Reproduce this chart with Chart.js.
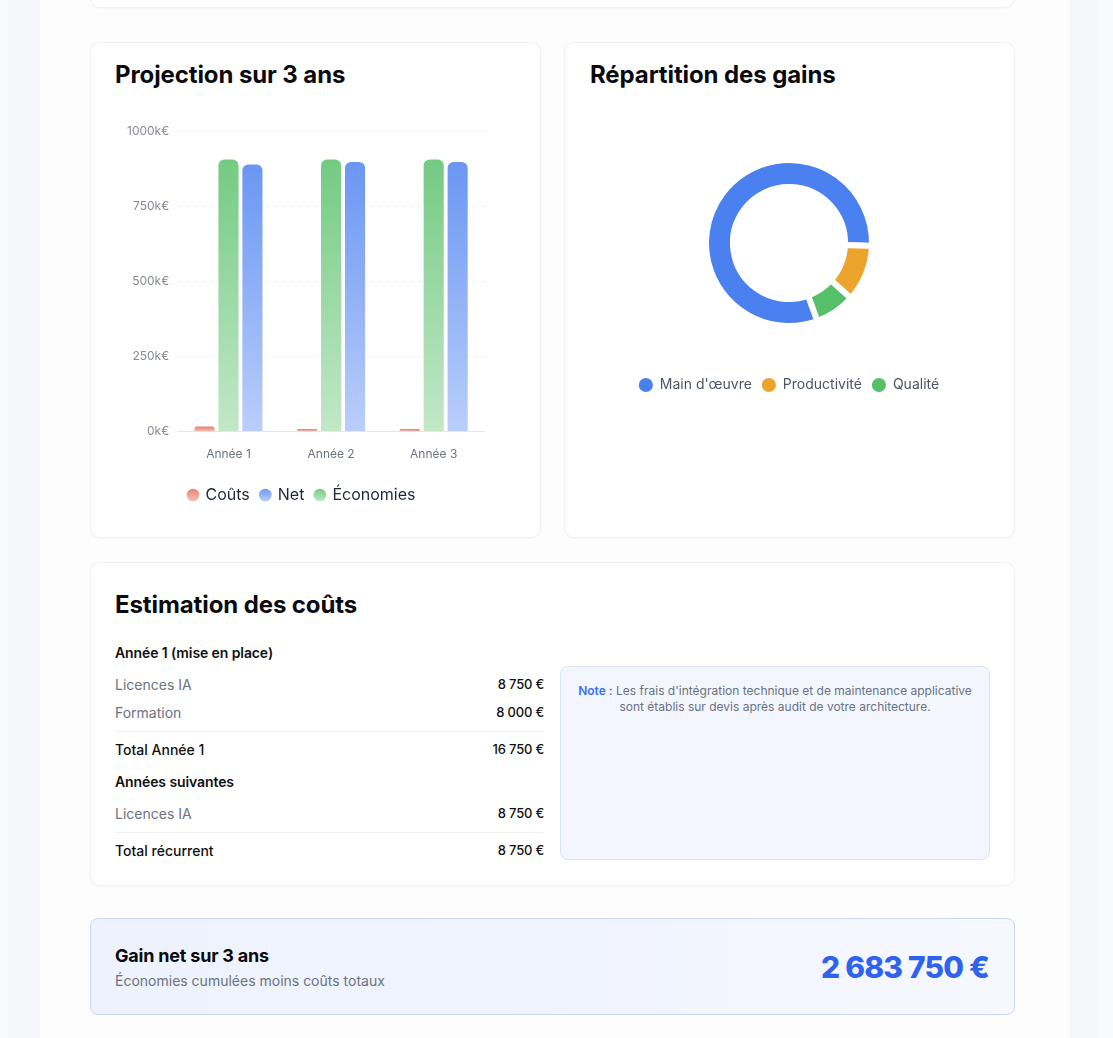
<!DOCTYPE html>
<html lang="fr">
<head>
<meta charset="utf-8">
<script src="https://cdn.jsdelivr.net/npm/chart.js@4.4.1/dist/chart.umd.min.js"></script>
<style>
  html, body { margin: 0; padding: 0; }
  body { width: 1113px; height: 1038px; background: #f9fafb; font-family: Inter, "Noto Sans", sans-serif; position: relative; overflow: hidden; color: #111827; }
  .strip { position: absolute; top: 0; bottom: 0; background: #f6f7fa; }
  .container { position: absolute; left: 40px; top: 0; width: 1030px; height: 1038px; background: #fdfdfd; }
  .card { position: absolute; background: #fff; border: 1px solid #f0f1f3; border-radius: 10px; box-shadow: 0 1px 2px rgba(16,24,40,0.03); box-sizing: border-box; }
  .title { position: absolute; font-weight: 700; font-size: 24px; letter-spacing: -0.1px; color: #0b0b0f; line-height: 1; white-space: nowrap; }
  .wrap { position: absolute; }
  .row { position: absolute; left: 115px; width: 429px; display: flex; justify-content: space-between; align-items: center; height: 20px; white-space: nowrap; }
  .lbl { font-size: 14px; color: #6b7280; }
  .val { font-size: 13px; font-weight: 500; color: #111; letter-spacing: -0.2px; }
  .hd { font-size: 14px; font-weight: 600; color: #111; letter-spacing: -0.1px; }
  .tot { font-size: 14px; font-weight: 500; color: #111; }
  .div { position: absolute; left: 115px; width: 429px; height: 1px; background: #eef0f2; }
  .note { position: absolute; left: 560px; top: 666px; width: 430px; height: 194px; box-sizing: border-box; background: #f3f6fe; border: 1px solid #d9e3fb; border-radius: 8px; text-align: center; font-size: 12px; line-height: 16px; color: #6b7280; padding: 16px 4px; white-space: nowrap; }
  .note b { color: #3b6ef6; font-weight: 600; }
  .gain { position: absolute; left: 90px; top: 918px; width: 925px; height: 97px; box-sizing: border-box; border: 1px solid #c9d8fb; border-radius: 8px; background: linear-gradient(90deg, #edf2fd 0%, #f0f4fe 50%, #f6f8fe 100%); }
</style>
</head>
<body>
<div class="strip" style="left:8px;width:32px"></div>
<div class="strip" style="left:1068px;width:30px"></div>
<div class="container"></div>

<div class="card" style="left:90px;top:-30px;width:925px;height:38px;"></div>

<div class="card" style="left:90px;top:42px;width:451px;height:496px;"></div>
<div class="card" style="left:564px;top:42px;width:451px;height:496px;"></div>
<div class="card" style="left:90px;top:562px;width:925px;height:324px;"></div>

<div class="title" style="left:115px;top:63px;">Projection sur 3 ans</div>
<div class="title" style="left:590px;top:63px;">Répartition des gains</div>
<div class="title" style="left:115px;top:593px;">Estimation des coûts</div>

<div class="wrap" style="left:115px;top:116px;width:370px;height:397px;"><canvas id="bar"></canvas></div>
<div class="wrap" style="left:589px;top:118px;width:400px;height:284px;"><canvas id="donut"></canvas></div>

<div class="row" style="top:642px;"><span class="hd">Année 1 (mise en place)</span></div>
<div class="row" style="top:674px;"><span class="lbl">Licences IA</span><span class="val">8 750 €</span></div>
<div class="row" style="top:702px;"><span class="lbl">Formation</span><span class="val">8 000 €</span></div>
<div class="div" style="top:731px;"></div>
<div class="row" style="top:739px;"><span class="tot">Total Année 1</span><span class="val">16 750 €</span></div>
<div class="row" style="top:771px;"><span class="hd">Années suivantes</span></div>
<div class="row" style="top:803px;"><span class="lbl">Licences IA</span><span class="val">8 750 €</span></div>
<div class="div" style="top:832px;"></div>
<div class="row" style="top:840px;"><span class="tot">Total récurrent</span><span class="val">8 750 €</span></div>

<div class="note"><b>Note :</b> Les frais d'intégration technique et de maintenance applicative<br>sont établis sur devis après audit de votre architecture.</div>

<div class="gain">
  <div style="position:absolute;left:24px;top:27px;font-size:18px;font-weight:700;letter-spacing:-0.2px;color:#0b0b0f;line-height:20px;">Gain net sur 3 ans</div>
  <div style="position:absolute;left:24px;top:53px;font-size:14px;color:#6b7280;line-height:18px;">Économies cumulées moins coûts totaux</div>
  <div style="position:absolute;right:25px;top:30px;font-size:30px;font-weight:800;color:#2f63ef;line-height:36px;letter-spacing:-0.8px;">2 683 750 €</div>
</div>

<script>
// ---- Data ----
const categories = ['Année 1', 'Année 2', 'Année 3'];
const couts = [16750, 8750, 8750];
const economies = [906000, 906000, 906000];
const net = [889250, 897250, 897250];
const yTicks = [0, 250000, 500000, 750000, 1000000];
const legendOrder = ['Coûts', 'Net', 'Économies'];

const gainLabels = ["Main d'œuvre", 'Productivité', 'Qualité'];
const gainValues = [735000, 100000, 71000];

// ---- Styles ----
const grad = {
  'Coûts': ['#e97e70', '#f6c2ba'],
  'Économies': ['#74ca83', '#c2e8c8'],
  'Net': ['#6a96f3', '#bacefa']
};
const gainColors = ['#4a80f0', '#eca42c', '#55bf6a'];

function barGradient(name) {
  return (ctx) => {
    const chart = ctx.chart;
    const y = chart.scales && chart.scales.y;
    const c = grad[name];
    if (!y || ctx.type !== 'data' || ctx.raw == null) return c[0];
    const top = y.getPixelForValue(ctx.raw);
    const bottom = y.getPixelForValue(0);
    if (!isFinite(top) || !isFinite(bottom) || bottom <= top) return c[0];
    const g = chart.ctx.createLinearGradient(0, top, 0, bottom);
    g.addColorStop(0, c[0]);
    g.addColorStop(1, c[1]);
    return g;
  };
}

const legendGradientPlugin = {
  id: 'legendGradient',
  beforeDraw(chart) {
    const lg = chart.legend;
    if (!lg || !lg.legendItems || !lg.legendHitBoxes) return;
    lg.legendItems.forEach((item, i) => {
      const hb = lg.legendHitBoxes[i];
      const c = grad[item.text];
      if (!hb || !c) return;
      const cy = hb.top + hb.height / 2;
      if (!isFinite(cy)) return;
      const g = chart.ctx.createLinearGradient(0, cy - 7, 0, cy + 7);
      g.addColorStop(0, c[0]);
      g.addColorStop(1, c[1]);
      item.fillStyle = g;
      item.strokeStyle = 'rgba(0,0,0,0)';
      item.lineWidth = 0;
    });
  }
};

Chart.defaults.font.family = 'Inter, "Noto Sans", sans-serif';
Chart.defaults.animation = false;

new Chart(document.getElementById('bar'), {
  type: 'bar',
  data: {
    labels: categories,
    datasets: [
      { label: 'Coûts', data: couts, backgroundColor: barGradient('Coûts') },
      { label: 'Économies', data: economies, backgroundColor: barGradient('Économies') },
      { label: 'Net', data: net, backgroundColor: barGradient('Net') }
    ]
  },
  options: {
    responsive: true,
    maintainAspectRatio: false,
    layout: { padding: { top: 14, left: 4, right: 0, bottom: 0 } },
    datasets: { bar: { borderRadius: 6, borderSkipped: 'bottom', categoryPercentage: 0.70, barPercentage: 0.84 } },
    scales: {
      x: {
        grid: { display: false, drawTicks: true, tickLength: 8 },
        border: { display: true, color: '#e5e7eb' },
        ticks: { color: '#6b7280', font: { size: 12 }, padding: 8 },
        afterFit: (s) => { s.height += 6; }
      },
      y: {
        min: 0, max: 1000000,
        afterBuildTicks: (s) => { s.ticks = yTicks.map(v => ({ value: v })); },
        grid: { color: '#eef0f3', drawTicks: false, lineWidth: 1 },
        border: { display: false, dash: [4, 4] },
        ticks: { color: '#868b94', font: { size: 12 }, padding: 8, callback: (v) => (v / 1000) + 'k€' }
      }
    },
    plugins: {
      legend: {
        position: 'bottom',
        labels: {
          usePointStyle: true, pointStyle: 'circle', boxWidth: 9, boxHeight: 9, padding: 11,
          color: '#1f2937', font: { size: 16 },
          sort: (a, b) => legendOrder.indexOf(a.text) - legendOrder.indexOf(b.text)
        }
      },
      tooltip: { enabled: false }
    }
  },
  plugins: [legendGradientPlugin]
});

new Chart(document.getElementById('donut'), {
  type: 'doughnut',
  data: {
    labels: gainLabels,
    datasets: [{ data: gainValues, backgroundColor: gainColors, borderWidth: 6, borderColor: '#ffffff', borderJoinStyle: 'miter' }]
  },
  options: {
    responsive: true,
    maintainAspectRatio: false,
    radius: 83,
    cutout: '67.5%',
    rotation: 160,
    plugins: {
      legend: {
        position: 'bottom',
        labels: { usePointStyle: true, pointStyle: 'circle', boxWidth: 14, boxHeight: 10, padding: 10, color: '#4b5563', font: { size: 14 },
          generateLabels: (chart) => Chart.overrides.doughnut.plugins.legend.labels.generateLabels(chart).map(l => Object.assign(l, { lineWidth: 0, strokeStyle: 'rgba(0,0,0,0)' })) }
      },
      tooltip: { enabled: false }
    }
  }
});
</script>
</body>
</html>
